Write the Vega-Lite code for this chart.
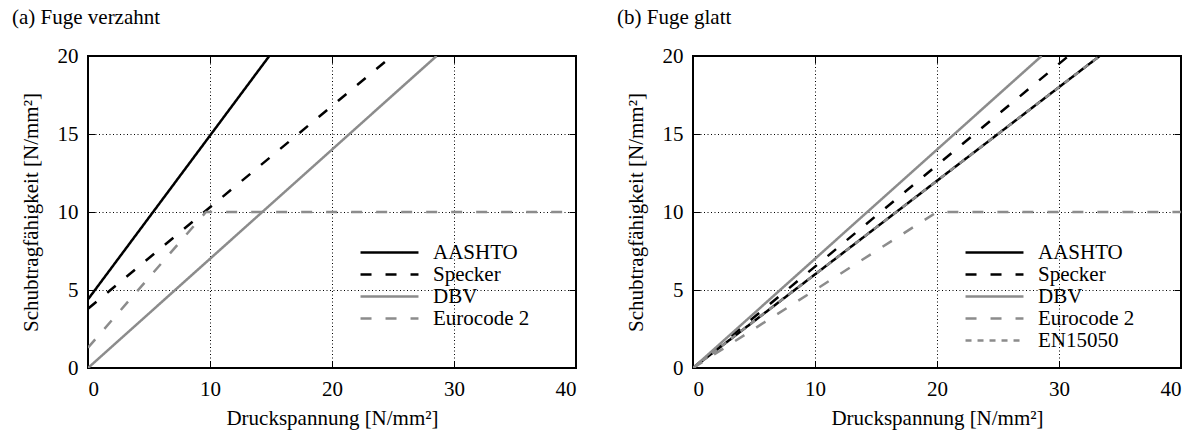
{
  "$schema": "https://vega.github.io/schema/vega-lite/v6.json",
  "background": "white",
  "padding": {"left": 11, "top": 6, "right": 15, "bottom": 4},
  "config": {
    "font": "Liberation Serif",
    "view": {"stroke": "#000000", "strokeWidth": 2},
    "axis": {
      "labelFont": "Liberation Serif",
      "labelFontSize": 21,
      "labelColor": "#000000",
      "titleFont": "Liberation Serif",
      "titleFontSize": 21,
      "titleFontWeight": "normal",
      "titleColor": "#000000",
      "domain": false,
      "grid": true,
      "gridColor": "#000000",
      "gridDash": [1, 2.5],
      "gridWidth": 1,
      "ticks": true,
      "tickSize": -7,
      "tickColor": "#000000",
      "tickWidth": 1
    },
    "axisX": {"labelPadding": 17, "titlePadding": 8},
    "axisY": {"labelPadding": 17, "titlePadding": 16},
    "legend": {
      "orient": "none",
      "legendX": 291,
      "legendY": 186,
      "padding": 0,
      "labelFont": "Liberation Serif",
      "labelFontSize": 21,
      "labelColor": "#000000",
      "labelOffset": 33,
      "rowPadding": 0,
      "symbolType": "M-3.22,0H3.22",
      "symbolSize": 324,
      "symbolStrokeWidth": 2.5
    },
    "title": {
      "font": "Liberation Serif",
      "fontSize": 21,
      "fontWeight": "normal",
      "color": "#000000",
      "anchor": "start",
      "frame": "bounds",
      "dx": -8,
      "offset": 17
    },
    "line": {"strokeWidth": 2.5, "strokeCap": "butt"}
  },
  "datasets": {
    "verzahnt": [
      {"Norm": "AASHTO", "sigma": 0, "tau": 4.4},
      {"Norm": "AASHTO", "sigma": 14.86, "tau": 20},
      {"Norm": "Specker", "sigma": 0, "tau": 3.8},
      {"Norm": "Specker", "sigma": 24.92, "tau": 20},
      {"Norm": "DBV", "sigma": 0, "tau": 0},
      {"Norm": "DBV", "sigma": 28.57, "tau": 20},
      {"Norm": "Eurocode 2", "sigma": 0, "tau": 1.3},
      {"Norm": "Eurocode 2", "sigma": 9.67, "tau": 10},
      {"Norm": "Eurocode 2", "sigma": 40, "tau": 10}
    ],
    "glatt": [
      {"Norm": "AASHTO", "sigma": 0, "tau": 0},
      {"Norm": "AASHTO", "sigma": 33.33, "tau": 20},
      {"Norm": "Specker", "sigma": 0, "tau": 0},
      {"Norm": "Specker", "sigma": 30.77, "tau": 20},
      {"Norm": "DBV", "sigma": 0, "tau": 0},
      {"Norm": "DBV", "sigma": 28.57, "tau": 20},
      {"Norm": "Eurocode 2", "sigma": 0, "tau": 0},
      {"Norm": "Eurocode 2", "sigma": 20, "tau": 10},
      {"Norm": "Eurocode 2", "sigma": 40, "tau": 10},
      {"Norm": "EN15050", "sigma": 0, "tau": 0},
      {"Norm": "EN15050", "sigma": 33.33, "tau": 20}
    ]
  },
  "bounds": "flush",
  "spacing": 117,
  "hconcat": [
    {
      "title": "(a) Fuge verzahnt",
      "width": 488,
      "height": 312,
      "data": {"name": "verzahnt"},
      "layer": [
        {
          "mark": {"type": "line", "clip": true},
          "encoding": {
            "x": {"field": "sigma", "type": "quantitative", "title": "Druckspannung [N/mm²]",
                  "scale": {"domain": [0, 40], "nice": false},
                  "axis": {"values": [0, 10, 20, 30, 40]}},
            "y": {"field": "tau", "type": "quantitative", "title": "Schubtragfähigkeit [N/mm²]",
                  "scale": {"domain": [0, 20], "nice": false},
                  "axis": {"values": [0, 5, 10, 15, 20]}},
            "color": {"field": "Norm", "type": "nominal", "title": null,
                      "scale": {"domain": ["AASHTO", "Specker", "DBV", "Eurocode 2"],
                                "range": ["#000000", "#000000", "#8c8c8c", "#8c8c8c"]}},
            "strokeDash": {"field": "Norm", "type": "nominal", "title": null,
                           "scale": {"domain": ["AASHTO", "Specker", "DBV", "Eurocode 2"],
                                     "range": [[1, 0], [11, 14], [1, 0], [11, 14]]}}
          }
        },
        {
          "mark": {"type": "line", "opacity": 0},
          "encoding": {
            "x": {"field": "sigma", "type": "quantitative",
                  "axis": {"orient": "top", "values": [0, 10, 20, 30, 40], "labels": false, "title": null, "grid": false}},
            "y": {"field": "tau", "type": "quantitative",
                  "axis": {"orient": "right", "values": [0, 5, 10, 15, 20], "labels": false, "title": null, "grid": false}},
            "detail": {"field": "Norm", "type": "nominal"}
          }
        }
      ],
      "resolve": {"axis": {"x": "independent", "y": "independent"}}
    },
    {
      "title": "(b) Fuge glatt",
      "width": 488,
      "height": 312,
      "data": {"name": "glatt"},
      "layer": [
        {
          "mark": {"type": "line", "clip": true},
          "encoding": {
            "x": {"field": "sigma", "type": "quantitative", "title": "Druckspannung [N/mm²]",
                  "scale": {"domain": [0, 40], "nice": false},
                  "axis": {"values": [0, 10, 20, 30, 40]}},
            "y": {"field": "tau", "type": "quantitative", "title": "Schubtragfähigkeit [N/mm²]",
                  "scale": {"domain": [0, 20], "nice": false},
                  "axis": {"values": [0, 5, 10, 15, 20]}},
            "color": {"field": "Norm", "type": "nominal", "title": null,
                      "scale": {"domain": ["AASHTO", "Specker", "DBV", "Eurocode 2", "EN15050"],
                                "range": ["#000000", "#000000", "#8c8c8c", "#8c8c8c", "#8c8c8c"]}},
            "strokeDash": {"field": "Norm", "type": "nominal", "title": null,
                           "scale": {"domain": ["AASHTO", "Specker", "DBV", "Eurocode 2", "EN15050"],
                                     "range": [[1, 0], [11, 14], [1, 0], [11, 14], [6, 6]]}}
          }
        },
        {
          "mark": {"type": "line", "opacity": 0},
          "encoding": {
            "x": {"field": "sigma", "type": "quantitative",
                  "axis": {"orient": "top", "values": [0, 10, 20, 30, 40], "labels": false, "title": null, "grid": false}},
            "y": {"field": "tau", "type": "quantitative",
                  "axis": {"orient": "right", "values": [0, 5, 10, 15, 20], "labels": false, "title": null, "grid": false}},
            "detail": {"field": "Norm", "type": "nominal"}
          }
        }
      ],
      "resolve": {"axis": {"x": "independent", "y": "independent"}}
    }
  ],
  "resolve": {
    "scale": {"color": "independent", "strokeDash": "independent"},
    "legend": {"color": "independent", "strokeDash": "independent"}
  }
}
